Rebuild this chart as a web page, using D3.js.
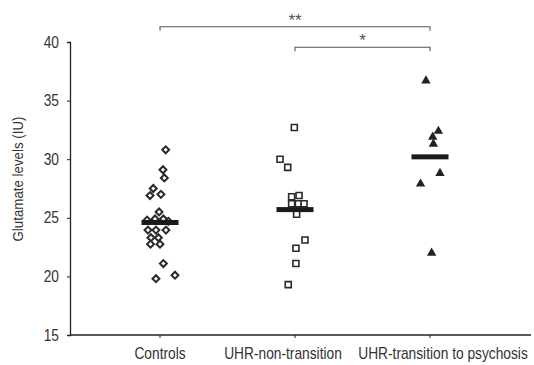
<!DOCTYPE html>
<html>
<head>
<meta charset="utf-8">
<script src="https://cdn.jsdelivr.net/npm/d3@7"></script>
<style>
  html, body { margin:0; padding:0; background:#fff; }
  svg { display:block; font-family:"Liberation Sans Narrow","Arial Narrow","Liberation Sans",sans-serif; }
</style>
</head>
<body>
<svg id="chart" width="534" height="365"></svg>
<script>
// groups on the x axis, in order
var groups = ["Controls", "UHR-non-transition", "UHR-transition to psychosis"];
var shapes = ["diamond", "square", "triangle"];
var yTicks = [15, 20, 25, 30, 35, 40];

// glutamate values, with the small sideways spread (in group units)
var controls    = [30.8, 29.1, 28.4, 27.5, 26.9, 27.0, 25.5, 24.8, 24.9, 24.9, 24.7,
                   23.95, 23.95, 23.95, 23.3, 23.3, 22.75, 22.75, 21.1, 20.1, 19.8];
var controlsDx  = [0.042, 0.022, 0.032, -0.05, -0.074, 0.007, -0.007, -0.096, -0.037, 0.025, 0.062,
                   -0.089, -0.030, 0.044, -0.067, -0.012, -0.07, 0.0, 0.025, 0.111, -0.03];
var nonTrans    = [32.7, 30.0, 29.3, 26.8, 26.9, 26.2, 26.2, 26.2, 25.3, 23.1, 22.4, 21.1, 19.3];
var nonTransDx  = [-0.005, -0.111, -0.054, -0.025, 0.03, -0.025, 0.025, 0.067, 0.012, 0.074, 0.007, 0.007, -0.05];
var trans       = [36.7, 32.4, 31.9, 31.3, 28.8, 27.9, 22.0];
var transDx     = [-0.03, 0.062, 0.02, 0.025, 0.074, -0.07, 0.012];
var series = [[controls, controlsDx], [nonTrans, nonTransDx], [trans, transDx]];

// group means (thick bars)
var means = [24.6, 25.7, 30.2];

// significance brackets: from group, to group, level on the value axis, label
var brackets = [
  { from: 0, to: 2, level: 41.3, label: "**" },
  { from: 1, to: 2, level: 39.55, label: "*" }
];

var INK = "#333", LINE = "#222", SQ = 0.86;
var svg = d3.select("#chart");
var x = d3.scaleLinear().domain([0, 2]).range([160, 430]);
var y = d3.scaleLinear().domain([15, 40]).range([335, 42]);

// narrow-looking text: larger size, squeezed sideways
function label(px, py, str, size, anchor, rot) {
  svg.append("text")
    .attr("transform", "translate(" + px + "," + py + ")" + (rot ? " rotate(-90)" : "") + " scale(" + SQ + ",1)")
    .attr("text-anchor", anchor).attr("fill", INK).attr("font-size", size).text(str);
}

// y axis
var ya = svg.append("g").attr("transform", "translate(70,0)")
  .call(d3.axisLeft(y).tickValues(yTicks).tickSize(3).tickPadding(6).tickFormat(""));
ya.select(".domain").attr("stroke", LINE).attr("stroke-width", 1.3);
ya.selectAll(".tick line").attr("stroke", LINE);
yTicks.forEach(function (t) { label(59, y(t) + 5.5, t, 16, "end"); });

// x axis
svg.append("line").attr("x1", 70).attr("x2", 531).attr("y1", y(15)).attr("y2", y(15))
  .attr("stroke", LINE).attr("stroke-width", 1.6);
groups.forEach(function (g, i) {
  svg.append("line").attr("x1", x(i)).attr("x2", x(i)).attr("y1", y(15)).attr("y2", y(15) + 3)
    .attr("stroke", LINE);
});
var labelX = [160, 283, 443];
groups.forEach(function (g, i) { label(labelX[i], 359, g, 16, "middle"); });

// y title
label(23, 179, "Glutamate levels (IU)", 15.5, "middle", true);

// points
var sym = {
  diamond:  function () { return d3.symbol().type(d3.symbolSquare).size(24)(); },
  square:   function () { return d3.symbol().type(d3.symbolSquare).size(36)(); },
  triangle: function () { return d3.symbol().type(d3.symbolTriangle).size(38)(); }
};
series.forEach(function (s, gi) {
  var vals = s[0], dx = s[1], shape = shapes[gi];
  vals.forEach(function (v, k) {
    var p = svg.append("path").attr("d", sym[shape]())
      .attr("transform", "translate(" + x(gi + dx[k]) + "," + y(v) + ")" + (shape === "diamond" ? " rotate(45)" : ""));
    if (shape === "triangle") p.attr("fill", "#222");
    else p.attr("fill", "#fff").attr("stroke", "#2a2a2a").attr("stroke-width", shape === "diamond" ? 2 : 1.6);
  });
});

// mean bars
means.forEach(function (m, i) {
  svg.append("rect").attr("x", x(i) - 18.5).attr("y", y(m) - 2.5)
    .attr("width", 37).attr("height", 5).attr("fill", "#1a1a1a");
});

// brackets
brackets.forEach(function (b) {
  var yy = y(b.level), x1 = x(b.from), x2 = x(b.to);
  svg.append("path").attr("d", "M" + x1 + "," + (yy + 4) + "V" + yy + "H" + x2 + "V" + (yy + 4))
    .attr("fill", "none").attr("stroke", "#555").attr("stroke-width", 1.1);
  svg.append("text").attr("x", (x1 + x2) / 2).attr("y", yy - 1).attr("text-anchor", "middle")
    .attr("fill", "#555").attr("font-size", 17).text(b.label);
});
</script>
</body>
</html>
